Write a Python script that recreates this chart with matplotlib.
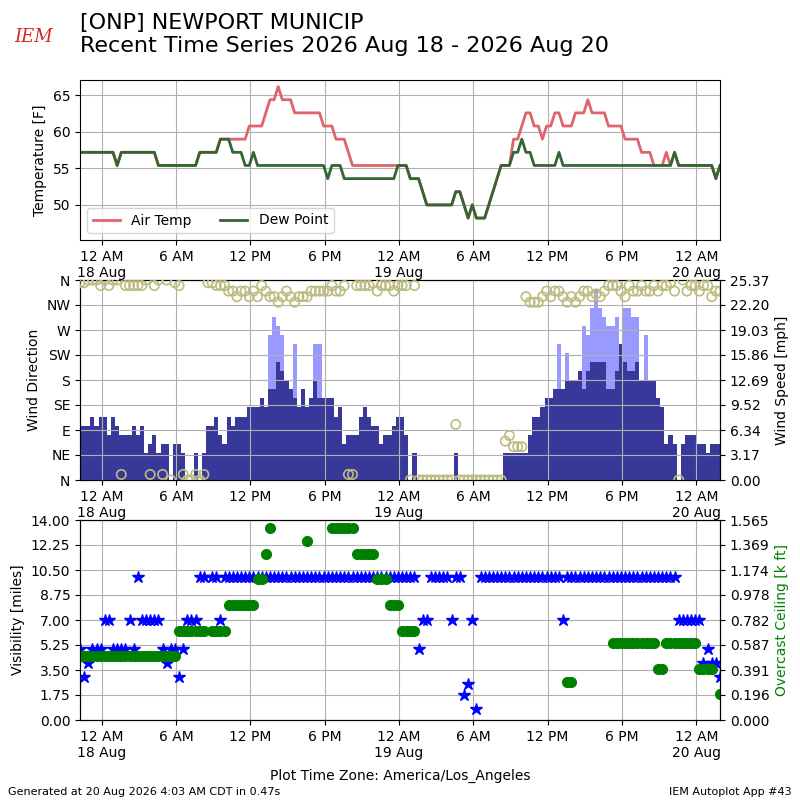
import numpy as np
import pandas as pd
import matplotlib
matplotlib.use("Agg")
import matplotlib.pyplot as plt
import matplotlib.dates as mdates
from matplotlib.ticker import FuncFormatter

nan = np.nan

# observations every 20 minutes, local time (America/Los_Angeles)
valid = pd.date_range("2026-08-17 22:15", periods=156, freq="20min")

# air temperature [F]
tmpf = [
    57.2, 57.2, 57.2, 57.2, 57.2, 57.2, 57.2, 57.2, 57.2, 55.4, 57.2, 57.2,
    57.2, 57.2, 57.2, 57.2, 57.2, 57.2, 57.2, 55.4, 55.4, 55.4, 55.4, 55.4,
    55.4, 55.4, 55.4, 55.4, 55.4, 57.2, 57.2, 57.2, 57.2, 57.2, 59.0, 59.0,
    59.0, 59.0, 59.0, 59.0, 59.0, 60.8, 60.8, 60.8, 60.8, 62.6, 64.4, 64.4,
    66.2, 64.4, 64.4, 64.4, 62.6, 62.6, 62.6, 62.6, 62.6, 62.6, 62.6, 60.8,
    60.8, 60.8, 59.0, 59.0, 59.0, 57.2, 55.4, 55.4, 55.4, 55.4, 55.4, 55.4,
    55.4, 55.4, 55.4, 55.4, 55.4, 55.4, 55.4, 55.4, 53.6, 53.6, 53.6, 51.8,
    50.0, 50.0, 50.0, 50.0, 50.0, 50.0, 50.0, 51.8, 51.8, 50.0, 48.2, 50.0,
    48.2, 48.2, 48.2, 50.0, 51.8, 53.6, 55.4, 55.4, 55.4, 59.0, 59.0, 60.8,
    62.6, 62.6, 60.8, 60.8, 59.0, 60.8, 60.8, 62.6, 62.6, 60.8, 60.8, 60.8,
    62.6, 62.6, 62.6, 64.4, 62.6, 62.6, 62.6, 62.6, 60.8, 60.8, 60.8, 60.8,
    59.0, 59.0, 59.0, 59.0, 57.2, 57.2, 57.2, 55.4, 55.4, 55.4, 57.2, 55.4,
    57.2, 55.4, 55.4, 55.4, 55.4, 55.4, 55.4, 55.4, 55.4, 55.4, 53.6, 55.4,
]
# dew point [F]
dwpf = [
    57.2, 57.2, 57.2, 57.2, 57.2, 57.2, 57.2, 57.2, 57.2, 55.4, 57.2, 57.2,
    57.2, 57.2, 57.2, 57.2, 57.2, 57.2, 57.2, 55.4, 55.4, 55.4, 55.4, 55.4,
    55.4, 55.4, 55.4, 55.4, 55.4, 57.2, 57.2, 57.2, 57.2, 57.2, 59.0, 59.0,
    59.0, 57.2, 57.2, 57.2, 55.4, 55.4, 57.2, 55.4, 55.4, 55.4, 55.4, 55.4,
    55.4, 55.4, 55.4, 55.4, 55.4, 55.4, 55.4, 55.4, 55.4, 55.4, 55.4, 55.4,
    53.6, 55.4, 55.4, 55.4, 53.6, 53.6, 53.6, 53.6, 53.6, 53.6, 53.6, 53.6,
    53.6, 53.6, 53.6, 53.6, 53.6, 55.4, 55.4, 55.4, 53.6, 53.6, 53.6, 51.8,
    50.0, 50.0, 50.0, 50.0, 50.0, 50.0, 50.0, 51.8, 51.8, 50.0, 48.2, 50.0,
    48.2, 48.2, 48.2, 50.0, 51.8, 53.6, 55.4, 55.4, 55.4, 57.2, 57.2, 59.0,
    57.2, 57.2, 55.4, 55.4, 55.4, 55.4, 55.4, 55.4, 57.2, 55.4, 55.4, 55.4,
    55.4, 55.4, 55.4, 55.4, 55.4, 55.4, 55.4, 55.4, 55.4, 55.4, 55.4, 55.4,
    55.4, 55.4, 55.4, 55.4, 55.4, 55.4, 55.4, 55.4, 55.4, 55.4, 55.4, 55.4,
    57.2, 55.4, 55.4, 55.4, 55.4, 55.4, 55.4, 55.4, 55.4, 55.4, 53.6, 55.4,
]
# wind direction [deg]
drct = [
    355, 355, 360, 360, 360, 350, 360, 350, 360, 360, 10, 350,
    350, 350, 350, 350, 360, 10, 350, 360, 10, 360, 0, 355,
    350, 10, 0, 0, 10, 0, 10, 355, 355, 350, 350, 350,
    340, 340, 330, 340, 340, 330, 340, 330, 350, 340, 330, 330,
    320, 330, 340, 330, 320, 330, 330, 330, 340, 340, 340, 340,
    340, 350, 340, 340, 350, 10, 10, 350, 350, 350, 350, 355,
    340, 350, 350, 350, 340, 350, 350, 350, 0, 350, 0, 0,
    0, 0, 0, 0, 0, 0, 0, 100, 0, 0, 0, 0,
    0, 0, 0, 0, 0, 0, 0, 70, 80, 60, 60, 60,
    330, 320, 320, 320, 330, 340, 330, 340, 340, 330, 320, 330,
    320, 330, 340, 340, 330, 335, 330, 340, 350, 350, 350, 340,
    330, 350, 340, 340, 350, 340, 340, 350, 340, 350, 350, 355,
    340, 0, 360, 340, 350, 350, 340, 350, 350, 330, 340, 340,
]
# wind speed [knots]
sknt = [
    6, 6, 6, 7, 6, 7, 7, 5, 7, 6, 5, 5,
    5, 6, 5, 6, 3, 4, 5, 3, 4, 4, 0, 4,
    4, 3, 0, 0, 3, 0, 3, 6, 6, 7, 5, 4,
    7, 6, 7, 7, 7, 8, 8, 8, 9, 8, 10, 10,
    13, 12, 11, 10, 9, 8, 10, 8, 9, 11, 9, 9,
    9, 9, 7, 8, 4, 5, 5, 5, 7, 8, 7, 6,
    6, 4, 5, 5, 6, 7, 7, 5, 0, 3, 0, 0,
    0, 0, 0, 0, 0, 0, 0, 3, 0, 0, 0, 0,
    0, 0, 0, 0, 0, 0, 0, 3, 3, 3, 3, 3,
    3, 5, 7, 7, 8, 9, 9, 10, 10, 10, 11, 11,
    11, 12, 10, 12, 13, 13, 13, 13, 10, 10, 12, 15,
    13, 12, 12, 13, 11, 11, 11, 11, 9, 8, 4, 5,
    4, 0, 4, 5, 5, 5, 4, 4, 3, 4, 4, 4,
]
# wind gust [knots]
gust = [
    nan, nan, nan, nan, nan, nan, nan, nan, nan, nan, nan, nan,
    nan, nan, nan, nan, nan, nan, nan, nan, nan, nan, nan, nan,
    nan, nan, nan, nan, nan, nan, nan, nan, nan, nan, nan, nan,
    nan, nan, nan, nan, nan, nan, nan, nan, nan, nan, 16, 18,
    17, 16, nan, nan, 15, nan, nan, nan, nan, 15, 15, nan,
    nan, nan, nan, nan, nan, nan, nan, nan, nan, nan, nan, nan,
    nan, nan, nan, nan, nan, nan, nan, nan, nan, nan, nan, nan,
    nan, nan, nan, nan, nan, nan, nan, nan, nan, nan, nan, nan,
    nan, nan, nan, nan, nan, nan, nan, nan, nan, nan, nan, nan,
    nan, nan, nan, nan, nan, nan, nan, nan, 15, nan, 14, nan,
    nan, nan, 17, 16, 19, 21, 19, 18, 17, 17, 18, nan,
    19, 19, 18, 18, nan, 16, nan, nan, nan, nan, nan, nan,
    nan, nan, nan, nan, nan, nan, nan, nan, nan, nan, nan, nan,
]
# visibility [miles]
vsby = [
    5, 3, 4, 5, 5, 5, 7, 7, 5, 5, 5, 5,
    7, 5, 10, 7, 7, 7, 7, 7, 5, 4, 5, 5,
    3, 5, 7, 7, 7, 10, 10, nan, 10, 10, 7, 10,
    10, 10, 10, 10, 10, 10, 10, 10, 10, 10, 10, 10,
    10, 10, 10, 10, 10, 10, 10, 10, 10, 10, 10, 10,
    10, 10, 10, 10, 10, 10, 10, 10, 10, 10, 10, 10,
    10, 10, 10, 10, 10, 10, 10, 10, 10, 10, 5, 7,
    7, 10, 10, 10, 10, 10, 7, 10, 10, 1.75, 2.5, 7,
    0.75, 10, 10, 10, 10, 10, 10, 10, 10, 10, 10, 10,
    10, 10, 10, 10, 10, 10, 10, 10, 10, 7, 10, 10,
    10, 10, 10, 10, 10, 10, 10, 10, 10, 10, 10, 10,
    10, 10, 10, 10, 10, 10, 10, 10, 10, 10, 10, 10,
    10, 7, 7, 7, 7, 7, 7, 4, 5, 4, 4, 3,
]
# overcast ceiling [k ft]
ceil = [
    0.5, 0.5, 0.5, 0.5, 0.5, 0.5, 0.5, 0.5, 0.5, 0.5, 0.5, 0.5,
    0.5, 0.5, 0.5, 0.5, 0.5, 0.5, 0.5, 0.5, 0.5, 0.5, 0.5, 0.5,
    0.7, 0.7, 0.7, 0.7, 0.7, 0.7, 0.7, nan, 0.7, 0.7, 0.7, 0.7,
    0.9, 0.9, 0.9, 0.9, 0.9, 0.9, 0.9, 1.1, 1.1, 1.3, 1.5, nan,
    nan, nan, nan, nan, nan, nan, nan, 1.4, nan, nan, nan, nan,
    nan, 1.5, 1.5, 1.5, 1.5, 1.5, 1.5, 1.3, 1.3, 1.3, 1.3, 1.3,
    1.1, 1.1, 1.1, 0.9, 0.9, 0.9, 0.7, 0.7, 0.7, 0.7, nan, nan,
    nan, nan, nan, nan, nan, nan, nan, nan, nan, nan, nan, nan,
    nan, nan, nan, nan, nan, nan, nan, nan, nan, nan, nan, nan,
    nan, nan, nan, nan, nan, nan, nan, nan, nan, nan, 0.3, 0.3,
    nan, nan, nan, nan, nan, nan, nan, nan, nan, 0.6, 0.6, 0.6,
    0.6, 0.6, 0.6, 0.6, 0.6, 0.6, 0.6, 0.6, 0.4, 0.4, 0.6, 0.6,
    0.6, 0.6, 0.6, 0.6, 0.6, 0.6, 0.4, 0.4, 0.4, 0.4, nan, 0.2,
]

dir_labels = ["N", "NE", "E", "SE", "S", "SW", "W", "NW", "N"]

sped_mph = np.array(sknt) * 1.15078
gust_mph = np.array(gust) * 1.15078
bar_width = 1.0 / 72.0  # 20 minutes in days


def time_fmt(x, pos=None):
    dt = mdates.num2date(x)
    hr = dt.hour % 12
    if hr == 0:
        hr = 12
    lbl = "%s %s" % (hr, "AM" if dt.hour < 12 else "PM")
    if dt.hour == 0:
        lbl += "\n%s %s" % (dt.day, dt.strftime("%b"))
    return lbl


fig = plt.figure(figsize=(8, 8), dpi=100)

# logo + titles
fig.text(0.018, 0.948, "IEM", color="#d62728", fontsize=13, style="italic",
         family="DejaVu Serif")
fig.text(0.1, 0.984, "[ONP] NEWPORT MUNICIP\nRecent Time Series 2026 Aug 18 - 2026 Aug 20",
         fontsize=16, va="top")

# temperatures
ax1 = fig.add_axes([0.1, 0.7, 0.8, 0.2])
ax1.plot(valid, tmpf, color="#e0646b", lw=2, label="Air Temp")
ax1.plot(valid, dwpf, color="#336633", lw=2, label="Dew Point")
ax1.set_ylim(45.2, 67.1)
ax1.set_yticks([50, 55, 60, 65])
ax1.set_ylabel("Temperature [F]")
ax1.legend(loc="lower left", ncol=2)

# wind
ax2 = fig.add_axes([0.1, 0.4, 0.8, 0.25])
ax2b = ax2.twinx()
ax2b.bar(valid, gust_mph, width=bar_width, color="#9999ff", lw=0)
ax2b.bar(valid, sped_mph, width=bar_width, color="#38389a", lw=0)
top = np.nanmax(gust_mph) * 1.05
ax2b.set_ylim(0, top)
ax2b.set_yticks(np.linspace(0, top, 9))
ax2b.yaxis.set_major_formatter(FuncFormatter(lambda v, p: "%.2f" % v))
ax2b.set_ylabel("Wind Speed [mph]")
ax2.scatter(valid, drct, s=45, facecolors="none", edgecolors="#bcbc80", lw=1.2, zorder=3)
ax2.set_ylim(0, 360)
ax2.set_yticks(range(0, 361, 45))
ax2.set_yticklabels(dir_labels)
ax2.set_ylabel("Wind Direction")
ax2.set_zorder(ax2b.get_zorder() + 1)
ax2.patch.set_visible(False)

# visibility and ceiling
ax3 = fig.add_axes([0.1, 0.1, 0.8, 0.25])
ax3.plot(valid, vsby, "*", color="b", ms=9, ls="none")
ax3.set_ylim(0, 14)
ax3.set_yticks(np.linspace(0, 14, 9))
ax3.yaxis.set_major_formatter(FuncFormatter(lambda v, p: "%.2f" % v))
ax3.set_ylabel("Visibility [miles]")
ax3b = ax3.twinx()
ax3b.plot(valid, ceil, "o", color="green", ms=7, ls="none")
ax3b.set_ylim(0, 1.565)
ax3b.set_yticks(np.linspace(0, 1.565, 9))
ax3b.yaxis.set_major_formatter(FuncFormatter(lambda v, p: "%.3f" % v))
ax3b.set_ylabel("Overcast Ceiling [k ft]", color="green")

for ax in [ax1, ax2, ax3]:
    ax.set_xlim(valid[0], valid[-1])
    ax.xaxis.set_major_locator(mdates.HourLocator(byhour=[0, 6, 12, 18]))
    ax.xaxis.set_major_formatter(FuncFormatter(time_fmt))
    ax.grid(True)
for ax in [ax2b, ax3b]:
    ax.set_xlim(valid[0], valid[-1])

fig.text(0.5, 0.025, "Plot Time Zone: America/Los_Angeles", ha="center", fontsize=10)
fig.text(0.01, 0.006, "Generated at 20 Aug 2026 4:03 AM CDT in 0.47s", fontsize=8)
fig.text(0.99, 0.006, "IEM Autoplot App #43", ha="right", fontsize=8)

fig.savefig("out.png", dpi=100)
